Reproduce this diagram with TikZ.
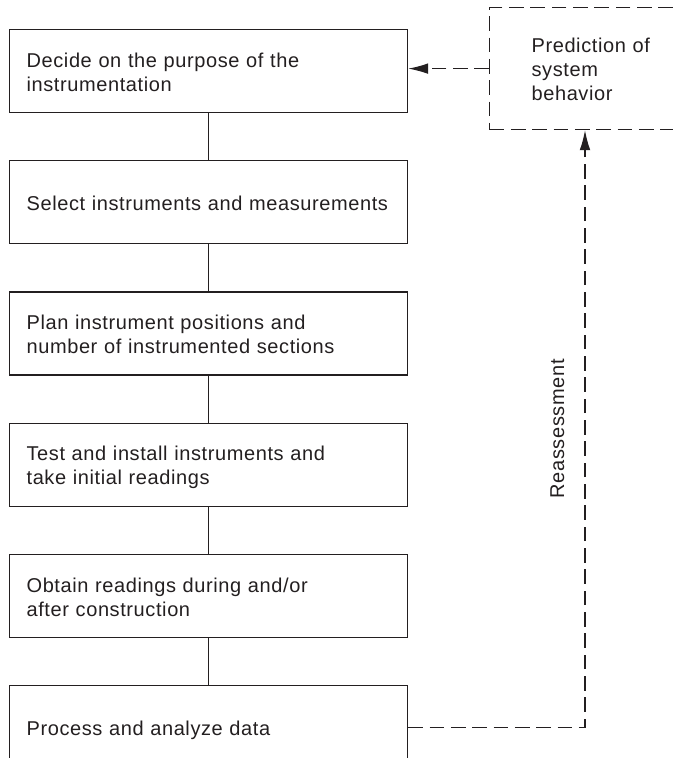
\documentclass[tikz,border=0pt]{standalone}
\usepackage{fontspec}
\setmainfont{Liberation Sans}[LetterSpace=3]
\usetikzlibrary{positioning, arrows.meta}
\definecolor{cINK}{HTML}{231F20}
\tikzset{
  stepbox/.style={
    draw=cINK, line width=0.9pt,
    inner xsep=12.75pt, inner ysep=0pt,
    text width=273pt, align=left,
    minimum height=62.25pt,
    text=cINK
  },
  predbox/.style={
    draw=cINK, line width=0.9pt,
    dash pattern=on 11pt off 5pt,
    inner xsep=31.5pt, inner ysep=0pt,
    text width=120pt, align=left,
    minimum height=91.5pt,
    text=cINK
  },
  link/.style={
    line width=0.9pt,
    draw=cINK
  },
  feedback/.style={
    -{Latex[length=15pt,width=8pt]},
    line width=0.9pt,
    draw=cINK,
    dash pattern=on 11pt off 5pt
  },
  sidelabel/.style={
    rotate=90, anchor=south,
    inner xsep=0pt, inner ysep=15pt,
    text=cINK
  }
}
\newcommand{\lbox}[1]{\raisebox{-2.5pt}[\height][\depth]{\begin{tabular}{@{}l@{}}#1\end{tabular}}}

\begin{document}
\begin{tikzpicture}[node distance=35.25pt, font=\fontsize{15pt}{18pt}\selectfont]
  \useasboundingbox (0,0) rectangle (504.75pt,-568.5pt);
  \clip (0,0) rectangle (504.75pt,-568.5pt);

  % main sequence
  \node[stepbox, anchor=north west] (decide) at (6.75pt,-21.75pt) {\lbox{Decide on the purpose of the\\instrumentation}};
  \node[stepbox, below=of decide] (select) {\lbox{Select instruments and measurements}};
  \node[stepbox, below=of select] (plan) {\lbox{Plan instrument positions and\\number of instrumented sections}};
  \node[stepbox, below=of plan] (install) {\lbox{Test and install instruments and\\take initial readings}};
  \node[stepbox, below=of install] (obtain) {\lbox{Obtain readings during and/or\\after construction}};
  \node[stepbox, below=of obtain] (process) {\lbox{Process and analyze data}};

  \node[predbox, anchor=north west] (predict) at (366.75pt,-5.25pt) {\lbox{Prediction of\\system\\behavior}};
  \coordinate (loop) at ([xshift=72pt]predict.south west);

  \draw[link] (decide) -- (select);
  \draw[link] (select) -- (plan);
  \draw[link] (plan) -- (install);
  \draw[link] (install) -- (obtain);
  \draw[link] (obtain) -- (process);

  % feedback loop
  \draw[feedback] (process.east) -| node[sidelabel, pos=0.75]{Reassessment} (loop);
  \draw[feedback] (predict.west) -- (predict.west -| decide.east);
\end{tikzpicture}
\end{document}
